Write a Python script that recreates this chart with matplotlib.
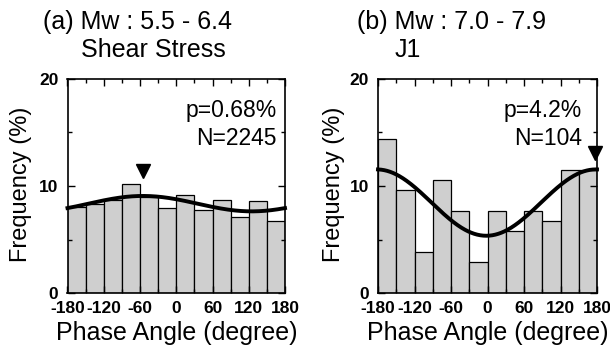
import numpy as np
import matplotlib
matplotlib.use("Agg")
import matplotlib.pyplot as plt
from matplotlib.ticker import MultipleLocator

# bin centres (degree), 30 degree bins
bin_centres = [-165, -135, -105, -75, -45, -15, 15, 45, 75, 105, 135, 165]

# (a) Mw 5.5 - 6.4, shear stress
freq_a = [8.0, 8.3, 8.7, 10.2, 9.0, 7.9, 9.2, 7.8, 8.7, 7.1, 8.6, 6.75]
fit_a = dict(mean=8.35, amp=0.72, peak=-55)
arrow_a = (-55, 11.4)
title_a = ["(a) Mw : 5.5 - 6.4", "Shear Stress"]
note_a = ["p=0.68%", "N=2245"]

# (b) Mw 7.0 - 7.9, J1
freq_b = [14.42, 9.62, 3.85, 10.58, 7.69, 2.88, 7.69, 5.77, 7.69, 6.73, 11.54, 11.54]
fit_b = dict(mean=8.45, amp=3.1, peak=178)
arrow_b = (176, 13.1)
title_b = ["(b) Mw : 7.0 - 7.9", "J1"]
note_b = ["p=4.2%", "N=104"]

xticks = [-180, -120, -60, 0, 60, 120, 180]
yticks = [0, 10, 20]

plt.rcParams['font.family'] = ['Liberation Sans', 'DejaVu Sans']
plt.rcParams['axes.unicode_minus'] = False

W, H = 610, 352
fig = plt.figure(figsize=(W / 100, H / 100), dpi=100)
ax_a = fig.add_axes([67.5 / W, 1 - 293 / H, 217.5 / W, 214 / H])
ax_b = fig.add_axes([378 / W, 1 - 293 / H, 219 / W, 214 / H])


def draw(ax, freq, fit, arrow, title, note, title_left, note_right, ylab_x):
    ax.bar(bin_centres, freq, width=30, color='#cfcfcf', edgecolor='black',
           linewidth=0.9, zorder=1)
    th = np.linspace(-180, 180, 361)
    curve = fit['mean'] + fit['amp'] * np.cos(np.radians(th - fit['peak']))
    ax.plot(th, curve, color='black', lw=2.8, zorder=3, clip_on=False)
    ax.plot([arrow[0]], [arrow[1]], marker='v', color='black',
            markersize=10, zorder=4, clip_on=False)
    ax.set_xlim(-180, 180)
    ax.set_ylim(0, 20)
    ax.set_xticks(xticks)
    ax.set_yticks(yticks)
    ax.xaxis.set_minor_locator(MultipleLocator(30))
    ax.yaxis.set_minor_locator(MultipleLocator(5))
    ax.tick_params(which='both', direction='in', top=True, right=True,
                   labelsize=12.5, width=1)
    ax.tick_params(which='major', length=5)
    ax.tick_params(which='minor', length=3)
    ax.tick_params(axis='x', pad=6)
    ax.tick_params(axis='y', pad=6.5)
    for lab in ax.get_xticklabels() + ax.get_yticklabels():
        lab.set_fontweight('bold')
    for s in ax.spines.values():
        s.set_linewidth(1.2)
    ax.text(0.5, -40 / 214, "Phase Angle (degree)", transform=ax.transAxes,
            ha='center', va='center', fontsize=18)
    ax.text(ylab_x, 0.51, "Frequency (%)", transform=ax.transAxes,
            ha='center', va='center', rotation=90, fontsize=17)
    ax.text(note_right, 0.855, note[0], transform=ax.transAxes, ha='right',
            va='center', fontsize=16.5)
    ax.text(note_right, 0.72, note[1], transform=ax.transAxes, ha='right',
            va='center', fontsize=16.5)
    fig.text(title_left / W, 1 - 22 / H, title[0], ha='left', va='center',
             fontsize=18)
    fig.text((title_left + 38) / W, 1 - 50 / H, title[1], ha='left',
             va='center', fontsize=18)


draw(ax_a, freq_a, fit_a, arrow_a, title_a, note_a, 43, 0.963, -0.216)
draw(ax_b, freq_b, fit_b, arrow_b, title_b, note_b, 357, 0.932, -0.2)

fig.savefig("out.png", dpi=100)
